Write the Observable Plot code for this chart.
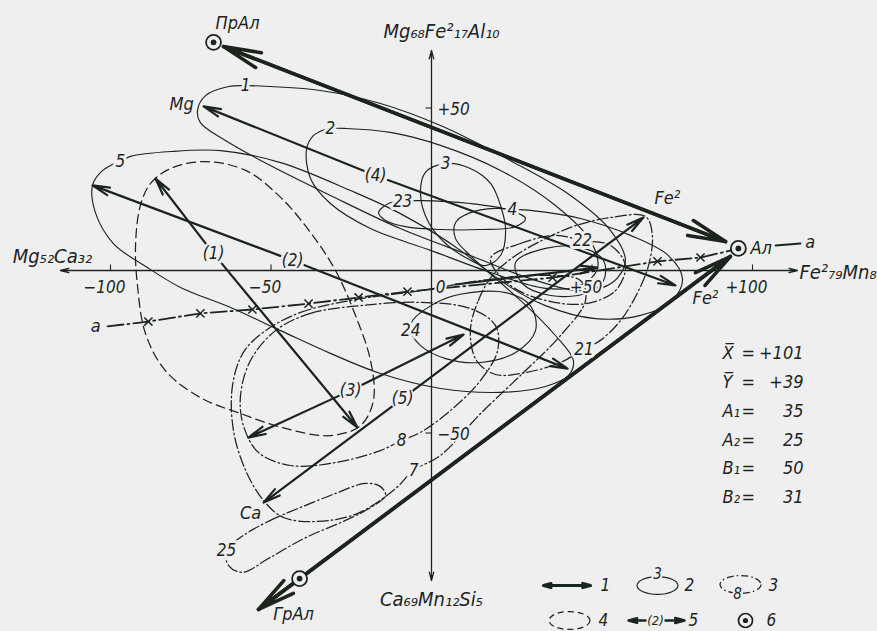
<!DOCTYPE html>
<html>
<head>
<meta charset="utf-8">
<script src="https://cdn.jsdelivr.net/npm/d3@7"></script>
<script src="https://cdn.jsdelivr.net/npm/@observablehq/plot@0.6"></script>
<style>
  html, body { margin: 0; padding: 0; background: #efefef; }
  #chart svg { display: block; }
</style>
</head>
<body>
<div id="chart"></div>
<script>
// ---------- axis ticks ----------
const xTicks = [-100, -50, 0, 50, 100];
const xTickLabels = ["−100", "−50", "0", "+50", "+100"];
const yTicks = [50, -50];
const yTickLabels = ["+50", "−50"];
const xAxisEnds = [-115.6, 114.0];
const yAxisEnds = [-95.4, 67.7];

// ---------- end members ----------
const poleNames = ["ПрАл", "Ал", "ГрАл"];
const poleX = [-67.9, 95.6, -41.1];
const poleY = [70.2, 6.8, -94.8];

// ---------- heavy two-headed trend lines ----------
const trendX1 = [-64.8, 93.1];
const trendY1 = [68.9, 4.3];
const trendX2 = [91.6, -53.9];
const trendY2 = [8.9, -104.3];

// ---------- numbered vectors (1)–(5) ----------
const vectorNames = ["(1)", "(2)", "(3)", "(4)", "(5)"];
const vectorMidX = [-67.9, -43.3, -25.2, -17.4, -9.0];
const vectorMidY = [5.2, 3.1, -36.9, 29.2, -39.4];
const vectorAX = [-86.0, -105.6, -57.0, -71.0, -52.3];
const vectorAY = [28.3, 26.2, -51.4, 50.5, -71.4];
const vectorBX = [-23.1, 42.4, 10.0, 76.0, 66.0];
const vectorBY = [-48.3, -30.2, -19.7, -4.6, 16.3];

// short resultant arrow near the origin
const shiftX = [7.5, 51.7];
const shiftY = [-4.3, 0.9];

// ---------- line a–a with its crosses ----------
const lineAX = [-100.9, -88.2, -72.0, -55.8, -38.3, -22.7, -7.5, 37.7, 70.4, 83.8, 93.5];
const lineAY = [-17.2, -15.7, -13.2, -12.0, -10.2, -8.3, -6.5, -2.2, 2.8, 4.0, 6.2];
const tailAX = [107.2, 114.9];
const tailAY = [7.7, 8.3];

// ---------- contours (solid) ----------
const c1 = [[-72.9,49.2],[-70.4,53.8],[-63.2,56.6],[-57.9,56.9],[-50.2,56.6],[-34.6,55.4],[-15.9,51.4],[2.8,44.6],[24.6,33.8],[43.3,23.1],[55.8,12.3],[60.4,3.1],[56.4,-3.7],[46.4,-6.2],[30.8,-2.5],[12.1,4.6],[-9.7,12.9],[-31.5,23.1],[-50.2,32.3],[-64.2,40.0],[-72.0,45.5]];
const c2 = [[-38.9,37.5],[-36.8,41.5],[-34.0,43.1],[-31.5,43.7],[-26.8,43.7],[-12.8,42.5],[2.8,38.5],[21.5,30.8],[38.6,20.0],[49.5,9.2],[51.7,0.6],[46.4,-4.6],[35.5,-5.5],[18.4,-0.6],[-0.3,6.2],[-19.0,12.9],[-31.5,20.6],[-37.7,28.3]];
const c3 = [[4.4,32.9],[12.1,31.4],[18.4,26.8],[21.5,20.0],[23.1,12.3],[21.5,4.6],[16.8,1.5],[10.6,4.0],[4.4,8.3],[-0.9,14.8],[-3.4,23.1],[-1.9,30.2]];
const c4 = [[7.5,14.8],[12.1,17.8],[19.9,19.1],[25.2,18.8],[30.8,18.5],[46.4,16.0],[62.0,10.8],[73.8,4.6],[78.2,-2.5],[75.1,-9.2],[65.1,-13.8],[51.1,-14.8],[35.5,-10.8],[21.5,-3.1],[12.1,4.6],[7.5,9.8]];
const c5 = [[-105.6,26.2],[-103.1,30.2],[-99.4,32.6],[-96.9,33.6],[-93.8,35.1],[-81.3,36.6],[-65.7,36.9],[-47.0,33.2],[-25.2,24.6],[-9.7,17.5],[9.0,6.2],[27.7,-9.2],[38.6,-20.0],[44.2,-27.7],[42.7,-32.3],[35.5,-35.7],[21.5,-37.5],[2.8,-36.3],[-15.9,-31.7],[-31.5,-25.5],[-47.0,-18.5],[-62.6,-11.4],[-78.2,-5.2],[-88.5,0.9],[-99.1,8.3],[-104.7,17.8]];
const c23 = [[-16.5,17.8],[-13.4,20.6],[-9.0,21.3],[-3.4,21.5],[12.1,20.6],[24.6,18.5],[29.3,16.0],[26.2,13.5],[15.3,12.6],[2.8,12.6],[-8.1,13.5],[-14.3,15.4]];
const c24 = [[-5.9,-15.4],[-6.5,-18.5],[-3.4,-23.1],[4.4,-27.1],[15.3,-28.3],[26.2,-25.2],[32.4,-18.5],[30.8,-10.8],[23.1,-6.8],[12.1,-6.8],[2.8,-9.2]];
const cInner = [[26.2,2.5],[35.5,6.8],[46.4,7.1],[53.6,3.1],[53.6,-3.1],[48.0,-7.1],[37.1,-7.7],[28.3,-4.0]];

// ---------- contours (dash-dot) ----------
const c7 = [[-51.7,-18.5],[-40.8,-12.9],[-25.2,-9.2],[-3.4,-6.2],[15.3,-3.1],[34.0,-1.5],[46.4,-3.1],[48.0,-9.2],[40.2,-20.0],[27.7,-32.3],[15.3,-44.0],[2.8,-56.9],[-5.6,-61.5],[-11.2,-67.1],[-23.1,-74.8],[-35.5,-77.2],[-46.1,-76.0],[-52.3,-70.8],[-57.9,-61.5],[-61.7,-49.2],[-62.0,-35.4],[-58.6,-25.2]];
const c8 = [[-48.6,-18.5],[-37.7,-13.2],[-22.1,-10.8],[-3.4,-9.8],[12.1,-11.7],[19.9,-16.9],[20.6,-24.6],[15.3,-33.8],[5.9,-43.1],[-3.4,-49.8],[-9.3,-52.3],[-15.9,-55.4],[-29.9,-59.1],[-43.9,-60.0],[-53.9,-56.0],[-58.6,-47.7],[-59.5,-38.5],[-56.4,-27.7]];
const c21 = [[12.1,-18.5],[14.6,-9.2],[19.0,-1.5],[26.2,4.6],[35.5,9.8],[44.9,13.8],[55.8,16.3],[66.7,16.6],[68.8,10.8],[67.6,1.5],[64.2,-6.8],[58.9,-15.4],[52.6,-21.5],[47.5,-24.2],[40.2,-28.3],[29.3,-31.4],[19.9,-32.0],[14.0,-27.7]];
const c22 = [[18.4,3.7],[27.7,8.3],[38.6,10.8],[47.0,9.2],[55.8,7.7],[60.4,1.5],[57.3,-6.2],[48.0,-10.2],[35.5,-9.2],[24.6,-4.6]];
const c25 = [[-58.6,-81.5],[-50.2,-76.9],[-40.8,-72.9],[-29.9,-68.6],[-20.6,-65.5],[-15.9,-66.5],[-14.3,-69.2],[-18.4,-72.6],[-26.8,-76.9],[-39.2,-82.2],[-50.8,-88.6],[-58.9,-92.9],[-63.2,-90.8],[-63.9,-86.2]];

// ---------- contour (dashed) ----------
const cDashed = [[-90.7,20.0],[-87.5,26.8],[-81.3,31.4],[-70.4,33.5],[-57.9,30.8],[-47.0,22.5],[-37.7,11.7],[-29.9,0],[-23.7,-13.8],[-19.0,-27.7],[-18.1,-40.0],[-22.1,-47.7],[-31.5,-50.8],[-45.5,-48.6],[-59.5,-44.0],[-72.0,-39.1],[-82.9,-30.8],[-89.1,-19.4],[-91.6,-4.6],[-92.2,7.7]];

// ---------- summary figures ----------
const statNames = ["X\u0305", "Y\u0305", "A₁", "A₂", "B₁", "B₂"];
const statValues = ["+101", "+39", "35", "25", "50", "31"];

// ---------- legend keys ----------
const legendKeys = ["1", "2", "3", "4", "5", "6"];

// ================= drawing =================
const INK = "#1c241e";
const BG = "#efefef";
const FONT = `"Liberation Sans Narrow", "DejaVu Sans Condensed", "Liberation Sans", sans-serif`;
const W = 877, H = 631;
const SX = 3.21, SY = 3.25, OX = 431, OY = 270;   // page pixels per unit, origin on the page
const px = v => (v - OX) / SX;                   // page position -> chart units (annotation layout)
const py = v => (OY - v) / SY;

const contours = [
  {id: "1", style: "solid", pts: c1, labelAt: 3},
  {id: "2", style: "solid", pts: c2, labelAt: 3},
  {id: "3", style: "solid", pts: c3, labelAt: 0},
  {id: "4", style: "solid", pts: c4, labelAt: 3},
  {id: "5", style: "solid", pts: c5, labelAt: 3},
  {id: "23", style: "solid", pts: c23, labelAt: 2},
  {id: "24", style: "solid", pts: c24, labelAt: 1},
  {id: "inner", style: "solid", pts: cInner, labelAt: null},
  {id: "7", style: "dashdot", pts: c7, labelAt: 12},
  {id: "8", style: "dashdot", pts: c8, labelAt: 10},
  {id: "21", style: "dashdot", pts: c21, labelAt: 13},
  {id: "22", style: "dashdot", pts: c22, labelAt: 3},
  {id: "25", style: "dashdot", pts: c25, labelAt: 13},
  {id: "dashed", style: "dashed", pts: cDashed, labelAt: null}
];
const contourRows = contours.flatMap(c => c.pts.map(([x, y]) => ({id: c.id, style: c.style, x, y})));
const contourLabels = contours.filter(c => c.labelAt !== null)
  .map(c => ({t: c.id, x: c.pts[c.labelAt][0], y: c.pts[c.labelAt][1]}));

const vectors = vectorNames.map((n, i) => ({
  n, mx: vectorMidX[i], my: vectorMidY[i],
  ax: vectorAX[i], ay: vectorAY[i], bx: vectorBX[i], by: vectorBY[i]
}));
const trends = trendX1.map((_, i) => ({x1: trendX1[i], y1: trendY1[i], x2: trendX2[i], y2: trendY2[i]}));
const poles = poleNames.map((n, i) => ({n, x: poleX[i], y: poleY[i]}));
const lineA = lineAX.map((x, i) => ({x, y: lineAY[i]}));
const crossesA = lineA.slice(1, -1);
const axisArms = [
  {x2: xAxisEnds[0], y2: 0}, {x2: xAxisEnds[1], y2: 0},
  {x2: 0, y2: yAxisEnds[0]}, {x2: 0, y2: yAxisEnds[1]}
];

const halo = {stroke: BG, strokeWidth: 6, paintOrder: "stroke", fill: INK, fontFamily: FONT, fontStyle: "italic"};
const plain = {fill: INK, fontFamily: FONT, fontStyle: "italic"};
const note = (label, x, y, o = {}) =>
  Plot.text([label], {x, y, text: d => d, fontSize: 18, ...halo, ...o});

// open ellipse glyph for the legend swatches
const ellipseSymbol = {
  draw(ctx, size) {
    const r = Math.sqrt(size / Math.PI), rx = 1.95 * r, ry = 0.85 * r, k = 0.5523;
    ctx.moveTo(rx, 0);
    ctx.bezierCurveTo(rx, k * ry, k * rx, ry, 0, ry);
    ctx.bezierCurveTo(-k * rx, ry, -rx, k * ry, -rx, 0);
    ctx.bezierCurveTo(-rx, -k * ry, -k * rx, -ry, 0, -ry);
    ctx.bezierCurveTo(k * rx, -ry, rx, -k * ry, rx, 0);
    ctx.closePath();
  }
};

const DASHDOT = "11,3,1.6,3";
const DASHED = "9,5";

// legend and summary layout on the page
const row1 = py(585), row2 = py(620);
const statRowsY = statNames.map((_, i) => py(353 + i * 28.8));
const stats = statNames.map((n, i) => ({n, v: statValues[i], y: statRowsY[i]}));

const chart = Plot.plot({
  width: W,
  height: H,
  margin: 0,
  x: {domain: [px(0), px(W)], axis: null},
  y: {domain: [py(H), py(0)], axis: null},
  style: {background: BG, color: INK, fontFamily: FONT},
  marks: [
    // axes
    Plot.arrow(axisArms, {x1: 0, y1: 0, x2: "x2", y2: "y2", stroke: INK, strokeWidth: 1.3, headLength: 10, headAngle: 30}),
    Plot.ruleX(xTicks.filter(v => v !== 0), {y1: 0, y2: 1.7, stroke: INK, strokeWidth: 1.1}),
    Plot.ruleY(yTicks, {x1: -1.7, x2: 0, stroke: INK, strokeWidth: 1.1}),

    // contours
    Plot.line(contourRows.filter(d => d.style === "solid"),
      {x: "x", y: "y", z: "id", curve: "catmull-rom-closed", stroke: INK, strokeWidth: 1.15}),
    Plot.line(contourRows.filter(d => d.style === "dashdot"),
      {x: "x", y: "y", z: "id", curve: "catmull-rom-closed", stroke: INK, strokeWidth: 1.25, strokeDasharray: DASHDOT}),
    Plot.line(contourRows.filter(d => d.style === "dashed"),
      {x: "x", y: "y", z: "id", curve: "catmull-rom-closed", stroke: INK, strokeWidth: 1.25, strokeDasharray: DASHED}),

    // line a–a
    Plot.line(lineA, {x: "x", y: "y", stroke: INK, strokeWidth: 1.8, strokeDasharray: "16,4,2,4"}),
    Plot.line(tailAX.map((x, i) => ({x, y: tailAY[i]})), {x: "x", y: "y", stroke: INK, strokeWidth: 2.2}),
    Plot.dot(crossesA, {x: "x", y: "y", symbol: "times", r: 3.8, stroke: INK, strokeWidth: 1.5}),

    // numbered vectors
    Plot.arrow(vectors, {x1: "mx", y1: "my", x2: "ax", y2: "ay", insetStart: 13, stroke: INK, strokeWidth: 2.2, headLength: 12, headAngle: 26}),
    Plot.arrow(vectors, {x1: "mx", y1: "my", x2: "bx", y2: "by", insetStart: 13, stroke: INK, strokeWidth: 2.2, headLength: 12, headAngle: 26}),
    Plot.arrow([{x1: shiftX[0], y1: shiftY[0], x2: shiftX[1], y2: shiftY[1]}],
      {x1: "x1", y1: "y1", x2: "x2", y2: "y2", stroke: INK, strokeWidth: 2.2, headLength: 12, headAngle: 26}),

    // heavy trend lines
    Plot.arrow(trends, {x1: "x1", y1: "y1", x2: "x2", y2: "y2", stroke: INK, strokeWidth: 3.6, headLength: 16, headAngle: 24}),
    Plot.arrow(trends, {x1: "x2", y1: "y2", x2: "x1", y2: "y1", stroke: INK, strokeWidth: 3.6, headLength: 16, headAngle: 24}),

    // end members
    Plot.dot(poles, {x: "x", y: "y", r: 7.5, fill: BG, stroke: INK, strokeWidth: 1.8}),
    Plot.dot(poles, {x: "x", y: "y", r: 2.9, fill: INK}),

    // contour numbers and vector labels
    Plot.text(contourLabels, {x: "x", y: "y", text: "t", fontSize: 17, ...halo}),
    Plot.text(vectors, {x: "mx", y: "my", text: "n", fontSize: 17, ...halo, strokeWidth: 3}),

    // tick labels
    Plot.text(xTicks.map((v, i) => ({v, t: xTickLabels[i]})).filter(d => d.v !== 0),
      {x: "v", y: 0, text: "t", dx: -6, dy: 17, fontSize: 17, ...halo, strokeWidth: 4}),
    Plot.text(xTicks.map((v, i) => ({v, t: xTickLabels[i]})).filter(d => d.v === 0),
      {x: "v", y: 0, text: "t", dx: 9, dy: 17, fontSize: 17, ...halo, strokeWidth: 4}),
    Plot.text(yTicks.map((v, i) => ({v, t: yTickLabels[i]})),
      {x: 0, y: "v", text: "t", dx: 6, dy: 2, textAnchor: "start", fontSize: 17, ...halo, strokeWidth: 4}),

    // axis titles
    note("Mg₆₈Fe²₁₇Al₁₀", 0, yAxisEnds[1], {dx: 10, dy: -19, fontSize: 20}),
    note("Ca₆₉Mn₁₂Si₅", 0, yAxisEnds[0], {dy: 19, fontSize: 20}),
    note("Mg₅₂Ca₃₂", xAxisEnds[0], 0, {dx: -8, dy: -14, fontSize: 20}),
    note("Fe²₇₉Mn₈", xAxisEnds[1], 0, {dx: 2, dy: 2, textAnchor: "start", fontSize: 20}),

    // end-member and vector-end names
    note(poleNames[0], poleX[0], poleY[0], {dx: 24, dy: -19}),
    note(poleNames[1], poleX[1], poleY[1], {dx: 12, dy: 0, textAnchor: "start"}),
    note(poleNames[2], poleX[2], poleY[2], {dx: -6, dy: 36}),
    note("Mg", vectorAX[3], vectorAY[3], {dx: -22, dy: -2}),
    note("Fe²", vectorBX[3], vectorBY[3], {dx: 30, dy: 13}),
    note("Fe²", vectorBX[4], vectorBY[4], {dx: 24, dy: -19}),
    note("Ca", vectorAX[4], vectorAY[4], {dx: -13, dy: 11}),
    note("a", lineAX[0], lineAY[0], {dx: -12, dy: 0}),
    note("a", tailAX[1], tailAY[1], {dx: 10, dy: -1}),

    // summary figures
    Plot.text(stats, {x: px(722), y: "y", text: "n", textAnchor: "start", fontSize: 18, ...plain}),
    Plot.text(stats, {x: px(741), y: "y", text: () => "=", textAnchor: "start", fontSize: 18, ...plain}),
    Plot.text(stats, {x: px(803), y: "y", text: "v", textAnchor: "end", fontSize: 18, ...plain}),

    // legend: 1 trend line
    Plot.arrow([{a: px(566), b: px(590)}, {a: px(566), b: px(543)}],
      {x1: "a", y1: row1, x2: "b", y2: row1, stroke: INK, strokeWidth: 3.2, headLength: 11, headAngle: 30}),
    Plot.text([legendKeys[0]], {x: px(600), y: row1, text: d => d, textAnchor: "start", fontSize: 17, ...plain}),
    // legend: 2 solid contour
    Plot.dot([0], {x: px(657), y: row1, r: 10.5, symbol: ellipseSymbol, fill: "none", stroke: INK, strokeWidth: 1.15}),
    Plot.text(["3"], {x: px(657), y: py(574), text: d => d, fontSize: 15, ...halo, strokeWidth: 4}),
    Plot.text([legendKeys[1]], {x: px(684), y: row1, text: d => d, textAnchor: "start", fontSize: 17, ...plain}),
    // legend: 3 dash-dot contour
    Plot.dot([0], {x: px(740), y: py(584), r: 10.5, symbol: ellipseSymbol, fill: "none", stroke: INK, strokeWidth: 1.25, strokeDasharray: "7,3,1.5,3"}),
    Plot.text(["8"], {x: px(737), y: py(594), text: d => d, fontSize: 15, ...halo, strokeWidth: 4}),
    Plot.text([legendKeys[2]], {x: px(768), y: row1, text: d => d, textAnchor: "start", fontSize: 17, ...plain}),
    // legend: 4 dashed contour
    Plot.dot([0], {x: px(569), y: row2, r: 10.5, symbol: ellipseSymbol, fill: "none", stroke: INK, strokeWidth: 1.25, strokeDasharray: "6,4"}),
    Plot.text([legendKeys[3]], {x: px(598), y: row2, text: d => d, textAnchor: "start", fontSize: 17, ...plain}),
    // legend: 5 numbered vector
    Plot.arrow([{a: px(655), b: px(628)}, {a: px(655), b: px(684)}],
      {x1: "a", y1: row2, x2: "b", y2: row2, insetStart: 10, stroke: INK, strokeWidth: 2.4, headLength: 10, headAngle: 30}),
    Plot.text(["(2)"], {x: px(655), y: row2, text: d => d, fontSize: 13, ...plain}),
    Plot.text([legendKeys[4]], {x: px(688), y: row2, text: d => d, textAnchor: "start", fontSize: 17, ...plain}),
    // legend: 6 end member
    Plot.dot([0], {x: px(745), y: row2, r: 7, fill: BG, stroke: INK, strokeWidth: 1.7}),
    Plot.dot([0], {x: px(745), y: row2, r: 2.6, fill: INK}),
    Plot.text([legendKeys[5]], {x: px(766), y: row2, text: d => d, textAnchor: "start", fontSize: 17, ...plain})
  ]
});

document.getElementById("chart").append(chart);
</script>
</body>
</html>
